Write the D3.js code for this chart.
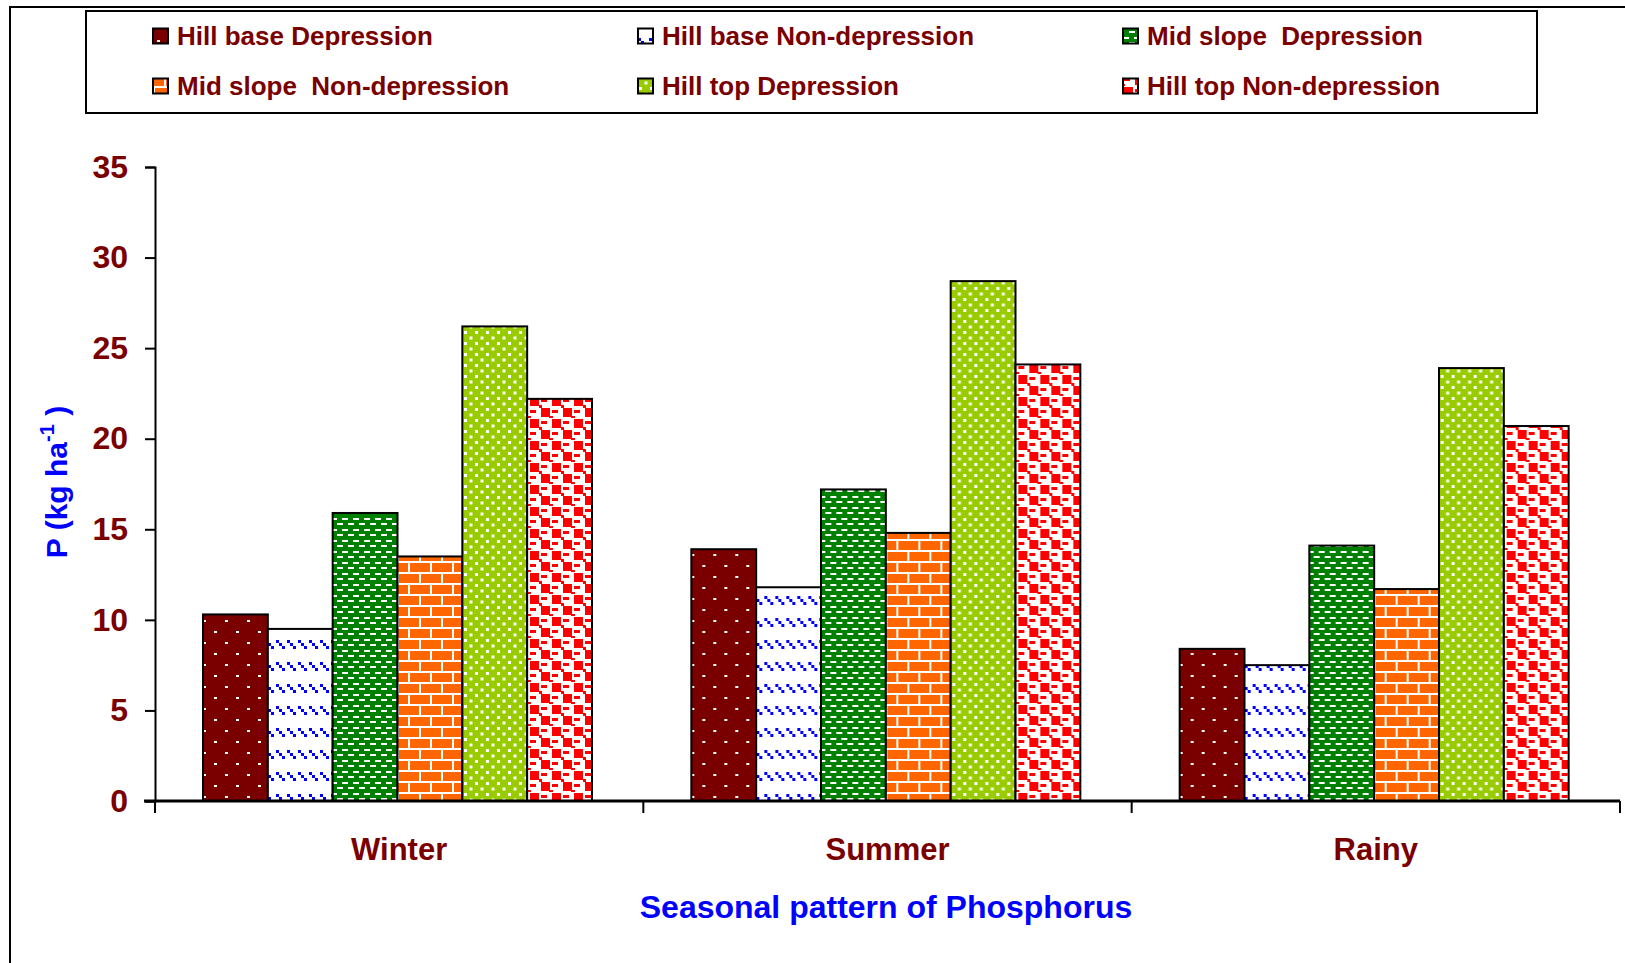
<!DOCTYPE html>
<html>
<head>
<meta charset="utf-8">
<script src="https://cdn.jsdelivr.net/npm/d3@7"></script>
<style>
  body { margin: 0; background: #fff; }
  svg { display: block; font-family: "Liberation Sans", Arial, sans-serif; font-weight: bold; }
</style>
</head>
<body>
<div id="chart"></div>
<script>
// data
var SEASONS = ["Winter", "Summer", "Rainy"];
var SERIES = ["Hill base Depression", "Hill base Non-depression", "Mid slope  Depression",
              "Mid slope  Non-depression", "Hill top Depression", "Hill top Non-depression"];
var HB_DEP = [10.3, 13.9, 8.4];
var HB_NON = [9.5, 11.8, 7.5];
var MS_DEP = [15.9, 17.2, 14.1];
var MS_NON = [13.5, 14.8, 11.7];
var HT_DEP = [26.2, 28.7, 23.9];
var HT_NON = [22.2, 24.1, 20.7];
var Y_TICKS = [0, 5, 10, 15, 20, 25, 30, 35];

var VALUES = [HB_DEP, HB_NON, MS_DEP, MS_NON, HT_DEP, HT_NON];

var W = 1625, H = 963;
var margin = { top: 167, left: 155, right: 5, bottom: 162 };
var DARKRED = "#7a0000", BLUE = "#0000ff";

var svg = d3.select("#chart").append("svg")
    .attr("width", W)
    .attr("height", H);

var defs = svg.append("defs");

// fill patterns, one per series
function pat(id, w, h) {
    return defs.append("pattern")
        .attr("id", id)
        .attr("patternUnits", "userSpaceOnUse")
        .attr("width", w)
        .attr("height", h);
}

// hill base depression: dark red, sparse white dots
var p0 = pat("p0", 22, 22);
p0.append("rect").attr("width", 22).attr("height", 22).attr("fill", DARKRED);
p0.append("rect").attr("x", 4).attr("y", 4).attr("width", 3).attr("height", 2).attr("fill", "#fff");
p0.append("rect").attr("x", 15).attr("y", 15).attr("width", 3).attr("height", 2).attr("fill", "#fff");

// hill base non-depression: white, blue little stair steps
var p1 = pat("p1", 11, 22);
p1.append("rect").attr("width", 11).attr("height", 22).attr("fill", "#fff");
[[0, 2], [3, 5], [6, 8]].forEach(function (d) {
    p1.append("rect").attr("x", d[0]).attr("y", d[1]).attr("width", 3).attr("height", 3).attr("fill", BLUE);
});

// mid slope depression: green, white dashes
var p2 = pat("p2", 11, 11);
p2.append("rect").attr("width", 11).attr("height", 11).attr("fill", "#008000");
p2.append("rect").attr("x", 0).attr("y", 1).attr("width", 6).attr("height", 2).attr("fill", "#fff");
p2.append("rect").attr("x", 6).attr("y", 6).attr("width", 6).attr("height", 2).attr("fill", "#fff");
p2.append("rect").attr("x", -5).attr("y", 6).attr("width", 6).attr("height", 2).attr("fill", "#fff");

// mid slope non-depression: orange bricks
var p3 = pat("p3", 22, 22);
p3.append("rect").attr("width", 22).attr("height", 22).attr("fill", "#ff6600");
p3.append("rect").attr("x", 0).attr("y", 0).attr("width", 22).attr("height", 2).attr("fill", "#fff");
p3.append("rect").attr("x", 0).attr("y", 11).attr("width", 22).attr("height", 2).attr("fill", "#fff");
p3.append("rect").attr("x", 0).attr("y", 0).attr("width", 2).attr("height", 11).attr("fill", "#fff");
p3.append("rect").attr("x", 11).attr("y", 11).attr("width", 2).attr("height", 11).attr("fill", "#fff");

// hill top depression: yellow green, white squares
var p4 = pat("p4", 11, 11);
p4.append("rect").attr("width", 11).attr("height", 11).attr("fill", "#99cc00");
p4.append("rect").attr("x", 1).attr("y", 1).attr("width", 3).attr("height", 3).attr("fill", "#fff");
p4.append("rect").attr("x", 6.5).attr("y", 6.5).attr("width", 3).attr("height", 3).attr("fill", "#fff");

// hill top non-depression: red checker on white
var p5 = pat("p5", 22, 22);
p5.append("rect").attr("width", 22).attr("height", 22).attr("fill", "#fff");
p5.append("rect").attr("x", 1).attr("y", 1).attr("width", 9).attr("height", 9).attr("fill", "#ff0000");
p5.append("rect").attr("x", 12).attr("y", 12).attr("width", 9).attr("height", 9).attr("fill", "#ff0000");
p5.append("rect").attr("x", 12).attr("y", 3).attr("width", 6).attr("height", 3).attr("fill", "#ff0000");
p5.append("rect").attr("x", 1).attr("y", 14).attr("width", 6).attr("height", 3).attr("fill", "#ff0000");
p5.append("rect").attr("x", 10).attr("y", 9).attr("width", 3).attr("height", 3).attr("fill", "#ff0000");
p5.append("rect").attr("x", 20).attr("y", 20).attr("width", 2).attr("height", 2).attr("fill", "#ff0000");
p5.append("rect").attr("x", 0).attr("y", 20).attr("width", 2).attr("height", 2).attr("fill", "#ff0000");

var FILLS = SERIES.map(function (d, i) { return "url(#p" + i + ")"; });

// outer frame (runs off right and bottom edge)
svg.append("rect")
    .attr("x", 10).attr("y", 7)
    .attr("width", W).attr("height", H)
    .attr("fill", "none").attr("stroke", "#000").attr("stroke-width", 2);

// scales
var x0 = d3.scaleBand().domain(SEASONS).range([margin.left, W - margin.right]).padding(0);
var x1 = d3.scaleBand().domain(d3.range(SERIES.length)).range([48, 48 + 389]);
var y = d3.scaleLinear().domain([0, 35]).range([H - margin.bottom, margin.top]);

// bars
var groups = svg.selectAll("g.season")
    .data(SEASONS)
    .enter().append("g")
    .attr("class", "season")
    .attr("transform", function (d) { return "translate(" + x0(d) + ",0)"; });

groups.selectAll("rect")
    .data(function (d, si) {
        return VALUES.map(function (v, i) { return { i: i, v: v[si] }; });
    })
    .enter().append("rect")
    .attr("x", function (d) { return x1(d.i); })
    .attr("y", function (d) { return y(d.v); })
    .attr("width", x1.bandwidth())
    .attr("height", function (d) { return y(0) - y(d.v); })
    .attr("fill", function (d) { return FILLS[d.i]; })
    .attr("stroke", "#000")
    .attr("stroke-width", 2);

// y axis
var yAxis = svg.append("g")
    .attr("transform", "translate(" + margin.left + ",0)")
    .call(d3.axisLeft(y).tickValues(Y_TICKS).tickSize(10).tickPadding(17));
yAxis.select(".domain").attr("stroke", "#000").attr("stroke-width", 2);
yAxis.selectAll(".tick line").attr("stroke", "#000").attr("stroke-width", 2);
yAxis.selectAll(".tick text")
    .attr("fill", DARKRED)
    .style("font-size", "32px")
    .style("font-family", "'Liberation Sans', Arial, sans-serif")
    .style("font-weight", "bold");

// x axis
var xAxis = svg.append("g")
    .attr("transform", "translate(0," + y(0) + ")")
    .call(d3.axisBottom(x0).tickSize(0).tickPadding(0));
xAxis.select(".domain").remove();
xAxis.selectAll(".tick text").remove();
svg.append("line")
    .attr("x1", 144).attr("x2", W - margin.right)
    .attr("y1", y(0)).attr("y2", y(0))
    .attr("stroke", "#000").attr("stroke-width", 3);
// category separators
svg.selectAll("line.sep")
    .data(SEASONS.concat(["end"]))
    .enter().append("line")
    .attr("class", "sep")
    .attr("x1", function (d, i) { return i < SEASONS.length ? x0(d) : x0(SEASONS[SEASONS.length - 1]) + x0.bandwidth(); })
    .attr("x2", function (d, i) { return i < SEASONS.length ? x0(d) : x0(SEASONS[SEASONS.length - 1]) + x0.bandwidth(); })
    .attr("y1", y(0)).attr("y2", y(0) + 12)
    .attr("stroke", "#000").attr("stroke-width", 2);

svg.selectAll("text.cat")
    .data(SEASONS)
    .enter().append("text")
    .attr("class", "cat")
    .attr("x", function (d) { return x0(d) + x0.bandwidth() / 2; })
    .attr("y", 860)
    .attr("text-anchor", "middle")
    .attr("fill", DARKRED)
    .style("font-size", "31px")
    .text(function (d) { return d; });

// axis titles
svg.append("text")
    .attr("x", 886)
    .attr("y", 918)
    .attr("text-anchor", "middle")
    .attr("fill", BLUE)
    .style("font-size", "32px")
    .text("Seasonal pattern of Phosphorus");

var yt = svg.append("text")
    .attr("transform", "translate(67,482) rotate(-90)")
    .attr("text-anchor", "middle")
    .attr("fill", BLUE)
    .style("font-size", "30px");
yt.append("tspan").text("P (kg ha");
yt.append("tspan").attr("dy", -13).style("font-size", "20px").text("-1");
yt.append("tspan").attr("dy", 13).text(" )");

// legend
svg.append("rect")
    .attr("x", 86).attr("y", 11)
    .attr("width", 1451).attr("height", 102)
    .attr("fill", "#fff").attr("stroke", "#000").attr("stroke-width", 2);

var legX = [153, 638, 1123],
    legY = [36, 86],
    ls_w = 15;

var legend = svg.selectAll("g.legend")
    .data(SERIES)
    .enter().append("g")
    .attr("class", "legend")
    .attr("transform", function (d, i) {
        return "translate(" + legX[i % 3] + "," + legY[Math.floor(i / 3)] + ")";
    });

legend.append("rect")
    .attr("x", 0)
    .attr("y", -ls_w / 2)
    .attr("width", ls_w)
    .attr("height", ls_w)
    .attr("fill", function (d, i) { return FILLS[i]; })
    .attr("stroke", "#000")
    .attr("stroke-width", 2);

legend.append("text")
    .attr("x", ls_w + 9)
    .attr("y", 9)
    .attr("fill", DARKRED)
    .style("font-size", "26px")
    .style("white-space", "pre")
    .attr("xml:space", "preserve")
    .text(function (d) { return d; });
</script>
</body>
</html>
